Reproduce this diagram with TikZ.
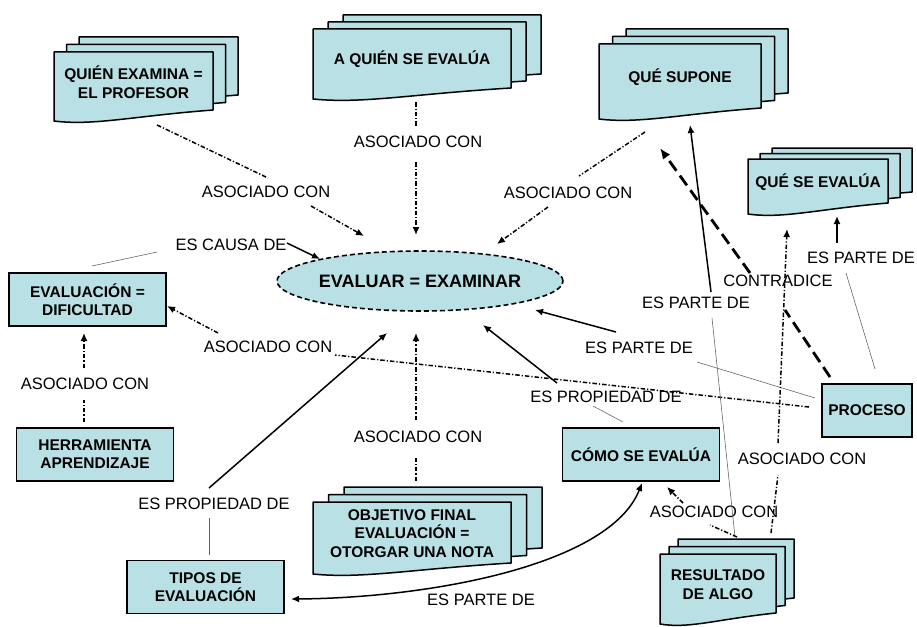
\documentclass[tikz,border=0pt]{standalone}
\usepackage{fontspec}
\setmainfont{Liberation Sans}
\usetikzlibrary{arrows.meta,calc,shapes.geometric}
\definecolor{cfill}{RGB}{185,224,228}
\tikzset{
 docstyle/.style={draw=black, fill=cfill, line width=1.5pt, line join=round},
 docbox/.style={rectangle, inner sep=0pt, draw=none},
 ctext/.style={font=\bfseries\fontsize{15.5}{18.5}\selectfont, align=center, inner sep=0pt},
 concept/.style={rectangle, draw=black, fill=cfill, line width=1.5pt, minimum width=157pt, minimum height=53pt, inner sep=0pt, align=center, font=\bfseries\fontsize{15.5}{18}\selectfont},
 lab/.style={inner sep=0pt, font=\fontsize{16.5}{18}\selectfont},
 assoc/.style={draw=black, line width=1.5pt, dash pattern=on 4.5pt off 2pt on 1.2pt off 2pt},
 thinlink/.style={draw=gray!80!black, line width=0.6pt},
 firm/.style={draw=black, line width=1.5pt},
 heavydash/.style={draw=black, line width=2.8pt, dash pattern=on 12pt off 6pt},
 arrowed/.style={-{Latex[length=8pt,width=7pt]}},
 bigtip/.style={-{Latex[length=11pt,width=9pt]}},
}
\newcommand\docshape[4]{\filldraw[docstyle] (#1,#2) -- ({#1+#3},#2) -- ({#1+#3},{#2+#4}) .. controls ({#1+0.5*#3},{#2+#4+6}) and ({#1+0.25*#3},{#2+#4+16}) .. (#1,{#2+#4+11}) -- cycle;}
\newcommand\mdoc[8]{%
  \docshape{#2+2*#6}{#3-2*#7}{#4}{#5}
  \docshape{#2+#6}{#3-#7}{#4}{#5}
  \docshape{#2}{#3}{#4}{#5}
  \node[docbox, minimum width=#4pt, minimum height={(#5+11)*1pt}] (#1) at ({#2+#4/2},{#3+(#5+11)/2}) {};
  \node[ctext] (#1t) at ({#2+#4/2},{#3+#5/2+1}) {#8};
}
\begin{document}
\begin{tikzpicture}[x=1pt,y=-1pt]
\useasboundingbox (0,0) rectangle (917,626);
% documents
\mdoc{quien}{54}{52}{159}{58}{12.5}{7.5}{QUIÉN EXAMINA =\\EL PROFESOR}
\mdoc{aquien}{313}{29}{198}{59}{15}{7}{A QUIÉN SE EVALÚA}
\mdoc{supone}{599}{44}{162}{64}{13.5}{7.5}{QUÉ SUPONE}
\mdoc{queeval}{748}{159}{140}{44}{12}{5.5}{QUÉ SE EVALÚA}
\mdoc{objetivo}{313}{502}{198}{61}{15.5}{7.5}{OBJETIVO FINAL\\EVALUACIÓN =\\OTORGAR UNA NOTA}
\mdoc{resultado}{660}{554}{116}{59}{9}{7.5}{RESULTADO\\DE ALGO}
% concepts
\node[ellipse, draw=black, fill=cfill, line width=1.6pt, dash pattern=on 5pt off 3pt, minimum width=274pt, minimum height=60pt, inner sep=0pt, font=\bfseries\fontsize{18}{20}\selectfont] (evaluar) at (420,281) {EVALUAR = EXAMINAR};
\node[concept] (evdif) at (87.5,299.5) {EVALUACIÓN =\\DIFICULTAD};
\node[concept] (herr) at (95,454.5) {HERRAMIENTA\\APRENDIZAJE};
\node[concept] (tipos) at (205.5,587) {TIPOS DE\\EVALUACIÓN};
\node[concept] (como) at (641,454.5) {CÓMO SE EVALÚA};
\node[concept, minimum width=90pt] (proceso) at (867,410.5) {PROCESO};
% linking phrases
\node[lab] (l1) at (266,192) {ASOCIADO CON};
\node[lab] (l2) at (418,142) {ASOCIADO CON};
\node[lab] (l3) at (568,193) {ASOCIADO CON};
\node[lab] (l4) at (231,245) {ES CAUSA DE};
\node[lab] (l5) at (268,347) {ASOCIADO CON};
\node[lab] (l6) at (85,384) {ASOCIADO CON};
\node[lab] (l7) at (214,504) {ES PROPIEDAD DE};
\node[lab] (l8) at (418,437) {ASOCIADO CON};
\node[lab] (l9) at (606,397) {ES PROPIEDAD DE};
\node[lab] (l10) at (639,348) {ES PARTE DE};
\node[lab] (l11) at (696,303) {ES PARTE DE};
\node[lab] (l12) at (778,281) {CONTRADICE};
\node[lab] (l13) at (861,258) {ES PARTE DE};
\node[lab] (l14) at (802,459) {ASOCIADO CON};
\node[lab] (l15) at (714,512) {ASOCIADO CON};
\node[lab] (l16) at (481,600) {ES PARTE DE};
% connectors
\draw[assoc] ($(quien)+(23.5,38.5)$) -- ($(l1)+(2,-14)$);
\draw[assoc,arrowed] ($(l1)+(45,14)$) -- ($(evaluar)+(-56,-45)$);
\draw[assoc] ($(aquien)+(4,38)$) -- ($(l2)+(-2,-15)$);
\draw[assoc,arrowed] ($(l2)+(-2,20)$) -- ($(evaluar)+(-4,-46)$);
\draw[assoc] ($(supone)+(-35,50.5)$) -- ($(l3)+(11,-17)$);
\draw[assoc,arrowed] ($(l3)+(-20,14)$) -- ($(evaluar)+(77,-37)$);
\draw[thinlink] ($(evdif)+(4.5,-33.5)$) -- ($(l4)+(-74,7)$);
\draw[firm,arrowed] ($(l4)+(56,-2)$) -- ($(evaluar)+(-100,-22)$);
\draw[assoc] ($(proceso)+(-58,-3.5)$) -- ($(l5)+(67,8)$);
\draw[assoc,arrowed] ($(l5)+(-50,-14)$) -- ($(evdif)+(79.5,6.5)$);
\draw[assoc] ($(herr)+(-11,-32.5)$) -- ($(l6)+(-1,16)$);
\draw[assoc,arrowed] ($(l6)+(-1,-16)$) -- ($(evdif)+(-3.5,33.5)$);
\draw[thinlink] ($(tipos)+(3.5,-32)$) -- ($(l7)+(-5,14)$);
\draw[firm,arrowed] ($(l7)+(-5,-16)$) -- ($(evaluar)+(-33,52)$);
\draw[assoc] ($(objetivo)+(4,-57)$) -- ($(l8)+(-2,21)$);
\draw[assoc,arrowed] ($(l8)+(-2,-17)$) -- ($(evaluar)+(-4,52)$);
\draw[thinlink] ($(como)+(-18,-32.5)$) -- ($(l9)+(-13,9)$);
\draw[firm,arrowed] ($(l9)+(-49,-14)$) -- ($(evaluar)+(63,44)$);
\draw[thinlink] ($(proceso)+(-52,-12.5)$) -- ($(l10)+(58,14)$);
\draw[firm,arrowed] ($(l10)+(-23,-16)$) -- ($(evaluar)+(115,29)$);
\draw[thinlink] ($(resultado)+(17,-52)$) -- ($(l11)+(16,15)$);
\draw[firm,arrowed] ($(l11)+(15,-11)$) -- ($(supone)+(10,43.5)$);
\draw[heavydash] ($(proceso)+(-37,-33.5)$) -- ($(l12)+(7,29)$);
\draw[heavydash,bigtip] ($(l12)+(-28,-8)$) -- ($(supone)+(-20,66.5)$);
\draw[thinlink] ($(proceso)+(8,-41.5)$) -- ($(l13)+(-15,15)$);
\draw[firm,arrowed] ($(l13)+(-24,-15)$) -- ($(queeval)+(19,29.5)$);
\draw[assoc] ($(resultado)+(53,-56)$) -- ($(l14)+(-24,16)$);
\draw[assoc,arrowed] ($(l14)+(-24,-16)$) -- ($(queeval)+(-31,42.5)$);
\draw[assoc] ($(resultado)+(19,-52)$) -- ($(l15)+(-4,13)$);
\draw[assoc,arrowed] ($(l15)+(-31,-9)$) -- ($(como)+(26,32.5)$);
\draw[firm,{Latex[length=8pt,width=7pt]}-{Latex[length=8pt,width=7pt]}] ($(tipos)+(85.5,12)$) .. controls ($(tipos)+(224.5,11)$) and ($(como)+(-31,110.5)$) .. ($(como)+(1,28.5)$);
\end{tikzpicture}
\end{document}
